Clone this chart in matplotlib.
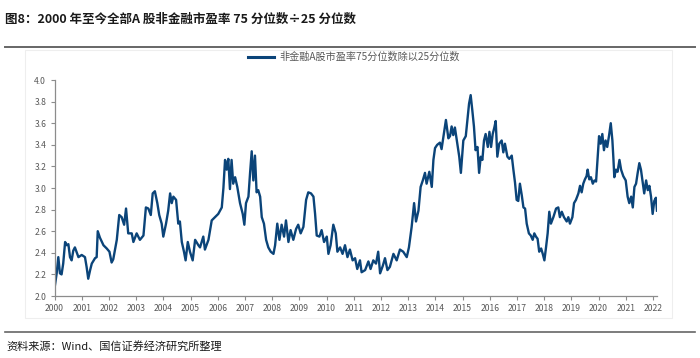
import matplotlib
matplotlib.use("Agg")
import matplotlib.pyplot as plt
from matplotlib.patches import Rectangle
from matplotlib.lines import Line2D

plt.rcParams['font.family'] = ['Noto Sans CJK SC', 'DejaVu Sans']

# ---- data ----
years = [
    2000.00, 2000.08, 2000.14, 2000.20, 2000.26, 2000.32, 2000.39, 2000.45, 2000.51, 2000.57,
    2000.63, 2000.69, 2000.75, 2000.88, 2001.00, 2001.12, 2001.18, 2001.24, 2001.31, 2001.37,
    2001.49, 2001.55, 2001.59, 2001.67, 2001.80, 2001.92, 2002.02, 2002.10, 2002.16, 2002.29,
    2002.38, 2002.47, 2002.56, 2002.63, 2002.71, 2002.84, 2002.90, 2003.02, 2003.14, 2003.27,
    2003.36, 2003.45, 2003.54, 2003.61, 2003.69, 2003.78, 2003.85, 2003.94, 2004.00, 2004.10,
    2004.18, 2004.25, 2004.31, 2004.37, 2004.47, 2004.55, 2004.61, 2004.68, 2004.76, 2004.82,
    2004.90, 2004.98, 2005.08, 2005.17, 2005.29, 2005.35, 2005.47, 2005.53, 2005.66, 2005.78,
    2005.90, 2006.02, 2006.15, 2006.21, 2006.27, 2006.33, 2006.39, 2006.45, 2006.51, 2006.57,
    2006.64, 2006.72, 2006.82, 2006.92, 2006.98, 2007.04, 2007.13, 2007.19, 2007.25, 2007.31,
    2007.37, 2007.43, 2007.49, 2007.56, 2007.62, 2007.70, 2007.78, 2007.86, 2007.95, 2008.05,
    2008.11, 2008.19, 2008.27, 2008.35, 2008.44, 2008.51, 2008.60, 2008.68, 2008.78, 2008.88,
    2008.96, 2009.05, 2009.15, 2009.25, 2009.33, 2009.43, 2009.52, 2009.58, 2009.64, 2009.74,
    2009.82, 2009.91, 2010.01, 2010.07, 2010.15, 2010.25, 2010.34, 2010.40, 2010.50, 2010.59,
    2010.68, 2010.77, 2010.86, 2010.96, 2011.05, 2011.13, 2011.23, 2011.29, 2011.42, 2011.54,
    2011.62, 2011.72, 2011.82, 2011.90, 2011.97, 2012.07, 2012.15, 2012.24, 2012.33, 2012.46,
    2012.58, 2012.70, 2012.82, 2012.95, 2013.03, 2013.13, 2013.22, 2013.29, 2013.38, 2013.46,
    2013.54, 2013.62, 2013.68, 2013.78, 2013.87, 2013.93, 2013.99, 2014.07, 2014.17, 2014.23,
    2014.32, 2014.39, 2014.48, 2014.54, 2014.60, 2014.66, 2014.72, 2014.79, 2014.88, 2014.94,
    2015.03, 2015.12, 2015.18, 2015.24, 2015.30, 2015.36, 2015.42, 2015.48, 2015.55, 2015.61,
    2015.67, 2015.73, 2015.79, 2015.85, 2015.93, 2015.99, 2016.05, 2016.11, 2016.17, 2016.22,
    2016.28, 2016.35, 2016.44, 2016.50, 2016.56, 2016.65, 2016.72, 2016.81, 2016.87, 2016.93,
    2016.99, 2017.05, 2017.11, 2017.18, 2017.24, 2017.30, 2017.36, 2017.44, 2017.51, 2017.58,
    2017.64, 2017.70, 2017.76, 2017.82, 2017.89, 2017.95, 2018.01, 2018.07, 2018.13, 2018.19,
    2018.25, 2018.34, 2018.44, 2018.52, 2018.58, 2018.65, 2018.73, 2018.83, 2018.89, 2018.95,
    2019.04, 2019.10, 2019.17, 2019.26, 2019.32, 2019.38, 2019.44, 2019.50, 2019.56, 2019.60,
    2019.66, 2019.72, 2019.79, 2019.85, 2019.91, 2019.97, 2020.02, 2020.08, 2020.14, 2020.20,
    2020.26, 2020.32, 2020.39, 2020.45, 2020.51, 2020.55, 2020.58, 2020.64, 2020.70, 2020.77,
    2020.83, 2020.91, 2021.00, 2021.07, 2021.13, 2021.20, 2021.26, 2021.32, 2021.38, 2021.44,
    2021.50, 2021.56, 2021.62, 2021.68, 2021.75, 2021.81, 2021.87, 2021.93, 2021.99, 2022.05,
    2022.11, 2022.15,
]

ratio = [
    2.07, 2.21, 2.36, 2.21, 2.20, 2.30, 2.50, 2.47, 2.48, 2.36,
    2.33, 2.42, 2.45, 2.36, 2.38, 2.36, 2.27, 2.16, 2.24, 2.30,
    2.35, 2.36, 2.60, 2.54, 2.47, 2.44, 2.41, 2.31, 2.34, 2.52,
    2.75, 2.73, 2.66, 2.81, 2.58, 2.58, 2.50, 2.58, 2.52, 2.56,
    2.82, 2.81, 2.75, 2.95, 2.97, 2.86, 2.75, 2.67, 2.55, 2.67,
    2.79, 2.95, 2.86, 2.92, 2.89, 2.67, 2.69, 2.50, 2.41, 2.33,
    2.50, 2.41, 2.33, 2.52, 2.47, 2.45, 2.55, 2.43, 2.52, 2.70,
    2.73, 2.76, 2.82, 3.00, 3.26, 3.17, 3.27, 2.99, 3.26, 3.04,
    3.10, 3.01, 2.86, 2.76, 2.66, 2.86, 2.92, 3.14, 3.34, 3.07,
    3.30, 2.96, 2.98, 2.92, 2.73, 2.67, 2.52, 2.45, 2.41, 2.39,
    2.47, 2.67, 2.52, 2.66, 2.55, 2.70, 2.50, 2.61, 2.52, 2.62,
    2.66, 2.58, 2.64, 2.89, 2.96, 2.95, 2.92, 2.76, 2.56, 2.55,
    2.61, 2.50, 2.55, 2.39, 2.47, 2.66, 2.58, 2.41, 2.45, 2.39,
    2.47, 2.36, 2.43, 2.33, 2.35, 2.25, 2.33, 2.22, 2.24, 2.32,
    2.25, 2.33, 2.30, 2.41, 2.21, 2.28, 2.35, 2.24, 2.27, 2.39,
    2.33, 2.43, 2.41, 2.36, 2.45, 2.64, 2.86, 2.69, 2.79, 3.01,
    3.07, 3.14, 3.04, 3.15, 3.01, 3.26, 3.37, 3.40, 3.42, 3.36,
    3.51, 3.63, 3.46, 3.48, 3.57, 3.49, 3.56, 3.44, 3.29, 3.14,
    3.44, 3.48, 3.63, 3.78, 3.86, 3.72, 3.57, 3.35, 3.38, 3.14,
    3.29, 3.26, 3.44, 3.50, 3.38, 3.52, 3.38, 3.50, 3.56, 3.62,
    3.29, 3.41, 3.44, 3.33, 3.41, 3.29, 3.27, 3.30, 3.17, 3.05,
    2.89, 2.88, 3.04, 2.93, 2.82, 2.81, 2.67, 2.58, 2.56, 2.52,
    2.58, 2.55, 2.53, 2.41, 2.44, 2.39, 2.33, 2.45, 2.58, 2.78,
    2.67, 2.73, 2.81, 2.82, 2.73, 2.78, 2.73, 2.69, 2.73, 2.67,
    2.73, 2.86, 2.89, 2.95, 3.02, 2.96, 3.04, 3.08, 3.11, 3.17,
    3.08, 3.10, 3.04, 3.07, 3.06, 3.29, 3.48, 3.41, 3.50, 3.35,
    3.44, 3.38, 3.49, 3.60, 3.44, 3.26, 3.10, 3.17, 3.15, 3.26,
    3.17, 3.11, 3.07, 2.92, 2.86, 2.92, 2.82, 3.01, 3.04, 3.14,
    3.23, 3.17, 3.06, 2.95, 3.07, 2.98, 3.02, 2.92, 2.76, 2.88,
    2.91, 2.79,
]

tick_years = list(range(2000, 2023))
y_ticks = [2.0, 2.2, 2.4, 2.6, 2.8, 3.0, 3.2, 3.4, 3.6, 3.8, 4.0]

title = "图8：2000 年至今全部A 股非金融市盈率 75 分位数÷25 分位数"
series_name = "非金融A股市盈率75分位数除以25分位数"
source = "资料来源：Wind、国信证券经济研究所整理"

line_color = "#0B4479"
grey = "#595959"

fig = plt.figure(figsize=(7.0, 3.58), dpi=100)
fig.patch.set_facecolor("white")

# faint outer frame of the chart area
fig.patches.append(Rectangle((25 / 700, 1 - 318 / 358), (672 - 25) / 700, (318 - 50) / 358,
                             transform=fig.transFigure, fill=False,
                             edgecolor="#eeeeee", linewidth=0.8))

ax = fig.add_axes([54.5 / 700, 1 - 296 / 358, (657 - 54.5) / 700, (296 - 80) / 358])
ax.plot(years, ratio, color=line_color, linewidth=1.7, solid_joinstyle="round")

ax.set_xlim(2000, 2022.15)
ax.set_ylim(2.0, 4.0)
ax.set_xticks(tick_years)
ax.set_xticklabels([str(y) for y in tick_years])
ax.set_yticks(y_ticks)
ax.set_yticklabels([f"{v:.1f}" for v in y_ticks])

for s in ["top", "right"]:
    ax.spines[s].set_visible(False)
for s in ["left", "bottom"]:
    ax.spines[s].set_color("#8c8c8c")
    ax.spines[s].set_linewidth(0.9)

ax.tick_params(axis="x", direction="out", length=3, width=0.8, color="#8c8c8c",
               labelsize=6.2, labelcolor=grey, pad=3)
ax.tick_params(axis="y", direction="out", length=3, width=0.8, color="#8c8c8c",
               labelsize=6.2, labelcolor=grey, pad=3)

# legend
handle = Line2D([], [], color=line_color, linewidth=2.2)
fig.legend([handle], [series_name], loc="center", bbox_to_anchor=(0.506, 1 - 57 / 358),
           frameon=False, fontsize=7.3, handlelength=2.5, handletextpad=0.6,
           labelcolor=grey)

# title and separators
fig.text(5 / 700, 1 - 19 / 358, title, fontsize=9, fontweight="bold", color="#1a1a1a",
         ha="left", va="center")
fig.add_artist(Line2D([5 / 700, 695 / 700], [1 - 47 / 358, 1 - 47 / 358],
                      transform=fig.transFigure, color="#666666", linewidth=1.4))
fig.add_artist(Line2D([5 / 700, 695 / 700], [1 - 331.5 / 358, 1 - 331.5 / 358],
                      transform=fig.transFigure, color="#666666", linewidth=1.2))
fig.text(6 / 700, 1 - 346 / 358, source, fontsize=8, color="#1a1a1a",
         ha="left", va="center")

fig.savefig("out.png", dpi=100, facecolor="white")
